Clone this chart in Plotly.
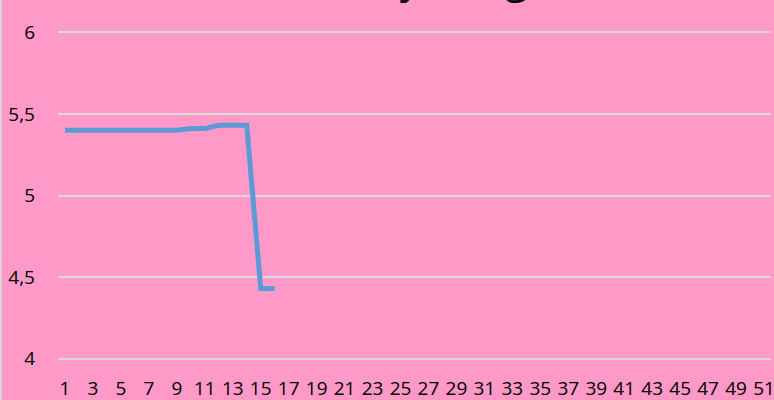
import plotly.graph_objects as go

categories = [str(i) for i in range(1, 52)]
values = [5.40, 5.40, 5.40, 5.40, 5.40, 5.40, 5.40, 5.40, 5.40,
          5.41, 5.41, 5.43, 5.43, 5.43, 4.43, 4.43]
tick_labels = [str(i) for i in range(1, 52, 2)]
y_ticks = [4, 4.5, 5, 5.5, 6]
y_tick_text = ["4", "4,5", "5", "5,5", "6"]
title_text = "Daily Weight"

fig = go.Figure()
fig.add_trace(go.Scatter(
    x=categories[:len(values)], y=values, mode="lines",
    line=dict(color="#5B9BD5", width=5, shape="linear"),
    showlegend=False, hoverinfo="skip"))

font = dict(family="Open Sans, Noto Sans, sans-serif", size=19, color="#000000")

fig.update_layout(
    width=774, height=400,
    margin=dict(l=58, r=3, t=29, b=38, pad=0, autoexpand=False),
    paper_bgcolor="#FF99C8", plot_bgcolor="#FF99C8",
    font=font,
    xaxis=dict(type="category", categoryorder="array", categoryarray=categories,
               range=[-0.5, 50.5], tickmode="array", tickvals=tick_labels,
               ticktext=tick_labels, showgrid=False, zeroline=False,
               showline=False, ticks="", ticklabelstandoff=13,
               tickfont=font, fixedrange=True, automargin=False),
    yaxis=dict(range=[3.98, 6.02], tickmode="array", tickvals=y_ticks,
               ticktext=y_tick_text, showgrid=True, gridcolor="#D9D9D9",
               gridwidth=1.5, zeroline=False, showline=False, ticks="",
               ticklabelstandoff=22, tickfont=font, fixedrange=True,
               automargin=False),
    shapes=[dict(type="line", xref="paper", yref="paper",
                 x0=-0.0805, x1=-0.0805, y0=-0.2, y1=1.2,
                 line=dict(color="#D9D9D9", width=2))],
    annotations=[dict(text=title_text, xref="paper", yref="paper",
                      x=0.545, y=1.157, xanchor="center", yanchor="middle",
                      showarrow=False,
                      font=dict(family="Open Sans, Noto Sans, sans-serif",
                                size=42, color="#000000"))],
)

fig.write_html("out.html", config={"displayModeBar": False},
               post_script="document.body.style.margin='0px';")
